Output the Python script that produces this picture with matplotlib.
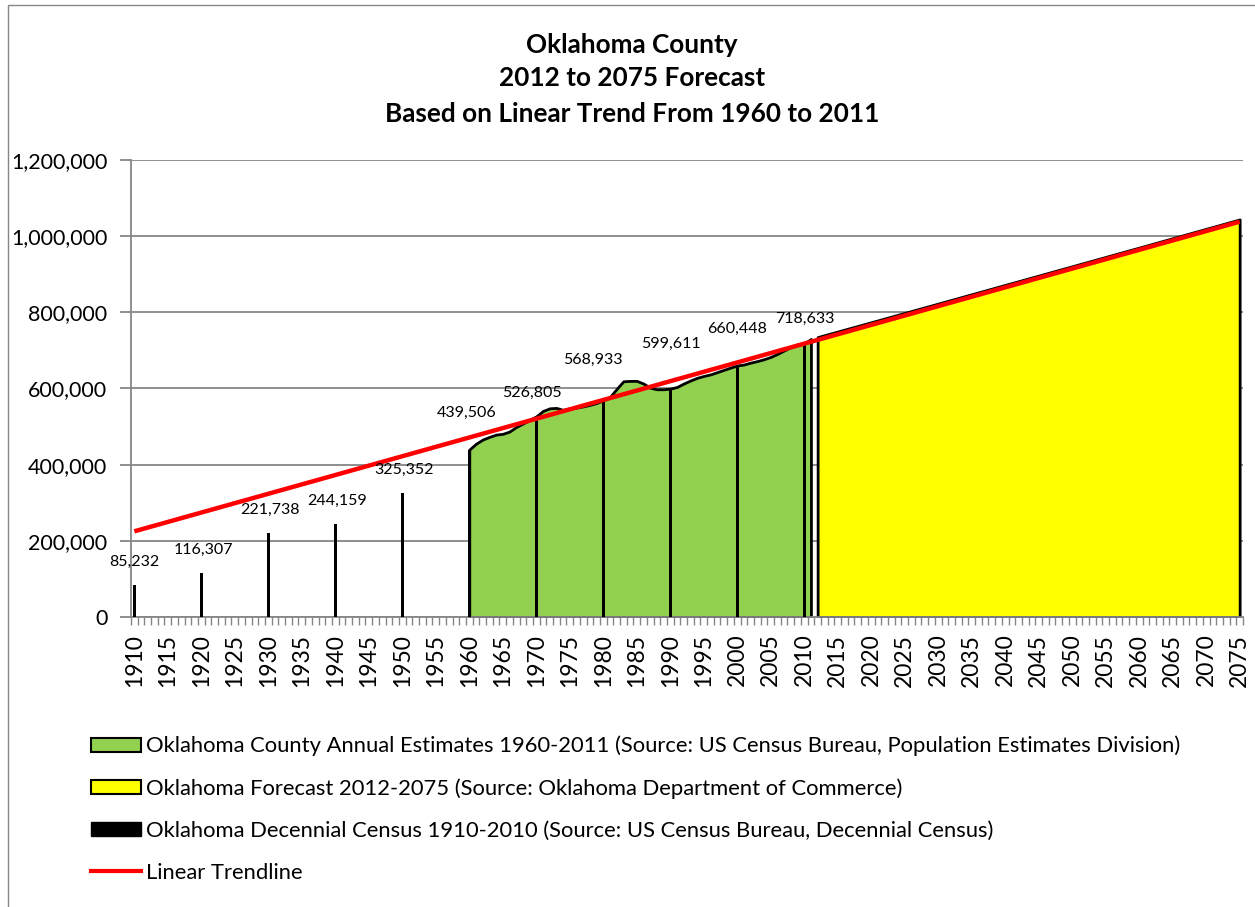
import matplotlib
matplotlib.use("Agg")
import matplotlib.pyplot as plt
from matplotlib.patches import Patch, Rectangle
from matplotlib.lines import Line2D
from matplotlib.ticker import FuncFormatter, MultipleLocator

plt.rcParams['font.family'] = ['Lato', 'DejaVu Sans']

# ---------------- data ----------------
census_years = [1910, 1920, 1930, 1940, 1950, 1960, 1970, 1980, 1990, 2000, 2010]
census_values = [85232, 116307, 221738, 244159, 325352, 439506, 526805, 568933,
                 599611, 660448, 718633]

est_years = list(range(1960, 2012))
est_values = [439506, 455000, 466000, 473000, 479000, 481000, 487000, 499000, 508000, 518000,
              526805, 541000, 548000, 549000, 544000, 548000, 550000, 553000, 557000, 562000,
              568933, 578000, 599000, 619000, 620000, 620000, 613000, 602000, 598000, 598000,
              599611, 604000, 613000, 621000, 628000, 633000, 637000, 643000, 649000, 655000,
              660448, 663000, 668000, 672000, 677000, 683000, 691000, 700000, 709000, 716000,
              718633, 730000]

forecast_years = [2012, 2020, 2030, 2040, 2050, 2060, 2075]
forecast_values = [735000, 774000, 823000, 872000, 921000, 970000, 1044000]

trend_years = [1910, 2075]
trend_values = [225000, 1038000]

# label offsets (pixels) for census data labels: (dx, dy)
label_offsets = [(0, 23), (2, 23), (2, 23), (2, 23), (2, 23), (-3, 37),
                 (-4, 23), (-10, 40), (1, 45), (0, 37), (1, 24)]

GREEN = '#92D050'
YELLOW = '#FFFF00'
RED = '#FF0000'
GRAY = '#868686'

W, H = 1255, 907
fig = plt.figure(figsize=(W / 100, H / 100), dpi=100)

# chart border (left and top visible)
fig.patches.append(Rectangle((8 / W, -0.1), 1.2, (H - 5) / H + 0.1,
                             transform=fig.transFigure, fill=False,
                             edgecolor=GRAY, linewidth=1.0))

ax = fig.add_axes([131 / W, (H - 617) / H, (1243 - 131) / W, (617 - 160) / H])

ax.fill_between(est_years, est_values, 0, facecolor=GREEN, edgecolor='black',
                linewidth=2, zorder=2)
ax.fill_between(forecast_years, forecast_values, 0, facecolor=YELLOW, edgecolor='black',
                linewidth=2, zorder=2)
ax.bar(census_years, census_values, width=0.45, color='black', zorder=3)
ax.plot(trend_years, trend_values, color=RED, linewidth=3.2, zorder=4,
        solid_capstyle='butt')

for (yr, v), (dx, dy) in zip(zip(census_years, census_values), label_offsets):
    ax.annotate(f"{v:,}", (yr, v), xytext=(dx * 0.72, dy * 0.72),
                textcoords='offset points', ha='center', va='center',
                fontsize=11.5, color='black', zorder=5)

ax.set_xlim(1909.5, 2075.5)
ax.set_ylim(0, 1200000)
ax.yaxis.set_major_locator(MultipleLocator(200000))
ax.yaxis.set_major_formatter(FuncFormatter(lambda v, p: f"{int(v):,}"))
ax.grid(axis='y', color=GRAY, linewidth=1.3, zorder=0)
ax.set_axisbelow(True)

ax.set_xticks(list(range(1910, 2076, 5)))
ax.set_xticklabels([str(y) for y in range(1910, 2076, 5)], rotation=90)
ax.set_xticks([y + 0.5 for y in range(1909, 2076)], minor=True)
ax.tick_params(axis='x', which='major', length=0, pad=12, labelsize=16.5)
ax.tick_params(axis='x', which='minor', length=6, color=GRAY, width=1)
ax.tick_params(axis='y', which='major', length=8, color=GRAY, width=1.3,
               labelsize=15.5, pad=9)

for s in ['top', 'right']:
    ax.spines[s].set_visible(False)
for s in ['left', 'bottom']:
    ax.spines[s].set_color(GRAY)
    ax.spines[s].set_linewidth(1.3)

fig.text(632 / W, 1 - 45 / H, "Oklahoma County", ha='center', va='center',
         fontsize=18.8, fontweight='bold')
fig.text(632 / W, 1 - 78 / H, "2012 to 2075 Forecast", ha='center', va='center',
         fontsize=18.8, fontweight='bold')
fig.text(632 / W, 1 - 114 / H, "Based on Linear Trend From 1960 to 2011", ha='center',
         va='center', fontsize=18.8, fontweight='bold')

handles = [
    Patch(facecolor=GREEN, edgecolor='black', linewidth=1.5),
    Patch(facecolor=YELLOW, edgecolor='black', linewidth=1.5),
    Patch(facecolor='black', edgecolor='black'),
    Line2D([0], [0], color=RED, linewidth=3),
]
labels = [
    "Oklahoma County Annual Estimates 1960-2011 (Source: US Census Bureau, Population Estimates Division)",
    "Oklahoma Forecast 2012-2075 (Source: Oklahoma Department of Commerce)",
    "Oklahoma Decennial Census 1910-2010 (Source: US Census Bureau, Decennial Census)",
    "Linear Trendline",
]
fig.legend(handles, labels, loc='upper left', bbox_to_anchor=(82 / W, 1 - 727 / H),
           frameon=False, fontsize=15.8, handlelength=2.3, handleheight=0.6,
           handletextpad=0.22, labelspacing=1.0, borderaxespad=0)

fig.savefig("out.png", dpi=100)
